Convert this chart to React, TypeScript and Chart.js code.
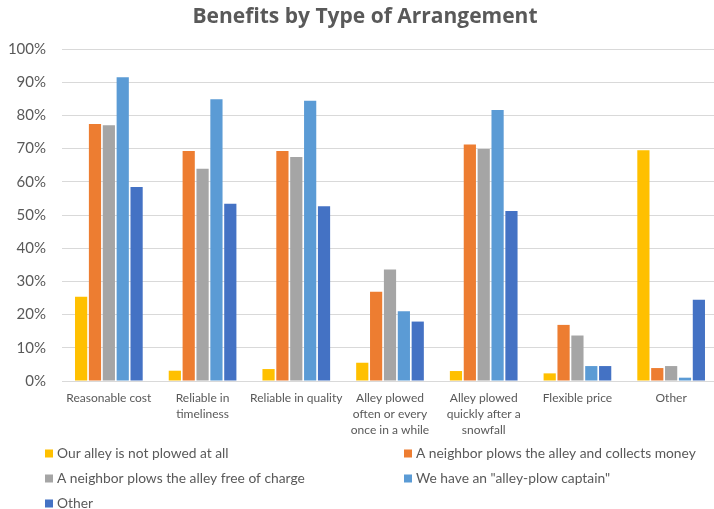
import React, { useEffect, useRef } from "react";
import { Chart, registerables } from "chart.js";

Chart.register(...registerables);

const TITLE = "Benefits by Type of Arrangement";
const categories: string[][] = [
  ["Reasonable cost"],
  ["Reliable in", "timeliness"],
  ["Reliable in quality"],
  ["Alley plowed", "often or every", "once in a while"],
  ["Alley plowed", "quickly after a", "snowfall"],
  ["Flexible price"],
  ["Other"],
];
const seriesNames = [
  "Our alley is not plowed at all",
  "A neighbor plows the alley and collects money",
  "A neighbor plows the alley free of charge",
  'We have an "alley-plow captain"',
  "Other",
];
const notPlowed = [25.4, 3.1, 3.6, 5.5, 3.0, 2.3, 69.5];
const neighborPaid = [77.4, 69.3, 69.3, 26.9, 71.2, 16.9, 3.9];
const neighborFree = [77.0, 63.9, 67.5, 33.6, 69.9, 13.7, 4.5];
const captain = [91.5, 84.9, 84.4, 21.0, 81.6, 4.5, 1.0];
const otherArr = [58.4, 53.4, 52.6, 17.9, 51.2, 4.5, 24.5];
const seriesValues = [notPlowed, neighborPaid, neighborFree, captain, otherArr];
const seriesColors = ["#FFC000", "#ED7D31", "#A5A5A5", "#5B9BD5", "#4472C4"];
const yTicks = [0, 10, 20, 30, 40, 50, 60, 70, 80, 90, 100];

const FONT = "Lato, 'Open Sans', sans-serif";
const TITLE_FONT = "'Open Sans', Lato, sans-serif";

const legendPlugin = {
  id: "gridLegend",
  afterLayout(chart: any) {
    if (chart.titleBlock) chart.titleBlock.left = 12;
  },
  afterDraw(chart: any) {
    const ctx = chart.ctx;
    ctx.save();
    ctx.font = `13.8px ${FONT}`;
    ctx.textBaseline = "middle";
    ctx.textAlign = "left";
    chart.data.datasets.forEach((ds: any, i: number) => {
      const col = i % 2;
      const row = Math.floor(i / 2);
      const x = col === 0 ? 45 : 404;
      const y = 453.5 + row * 25;
      ctx.fillStyle = ds.backgroundColor;
      ctx.fillRect(x, y - 4, 8, 8);
      ctx.fillStyle = "#595959";
      ctx.fillText(ds.label, x + 12, y);
    });
    ctx.restore();
  },
};

export default function App() {
  const ref = useRef<HTMLCanvasElement>(null);
  useEffect(() => {
    if (!ref.current) return;
    const chart = new Chart(ref.current, {
      type: "bar",
      data: {
        labels: categories,
        datasets: seriesNames.map((name, i) => ({
          label: name,
          data: seriesValues[i],
          backgroundColor: seriesColors[i],
          borderWidth: 0,
          categoryPercentage: 0.74,
          barPercentage: 0.88,
        })),
      },
      options: {
        responsive: false,
        animation: false,
        devicePixelRatio: 1,
        layout: { padding: { left: 0, right: 14, top: 0, bottom: 0 } },
        plugins: {
          legend: { display: false },
          tooltip: { enabled: false },
          title: {
            display: true,
            text: TITLE,
            color: "#595959",
            font: { family: TITLE_FONT, size: 21, weight: "bold", lineHeight: 1.2 },
            padding: { top: 4.5, bottom: 19.3 },
          },
        },
        scales: {
          x: {
            grid: { display: false, drawTicks: false },
            border: { display: true, color: "#d9d9d9" },
            ticks: {
              color: "#595959",
              font: { family: FONT, size: 12, lineHeight: 1.333 },
              padding: 9,
              maxRotation: 0,
              autoSkip: false,
            },
            afterFit(scale: any) {
              scale.height = 128;
            },
          },
          y: {
            min: 0,
            max: 100,
            afterBuildTicks(scale: any) {
              scale.ticks = yTicks.map((v) => ({ value: v }));
            },
            grid: { color: "#d9d9d9", drawTicks: false },
            border: { display: false },
            ticks: {
              color: "#595959",
              font: { family: FONT, size: 15 },
              padding: 16,
              callback: (v: any) => `${v}%`,
            },
            afterFit(scale: any) {
              scale.width = 62;
            },
          },
        },
      },
      plugins: [legendPlugin],
    });
    return () => chart.destroy();
  }, []);
  return (
    <div
      style={{
        position: "fixed",
        left: 0,
        top: 0,
        width: 714,
        height: 509,
        overflow: "hidden",
        background: "#fff",
      }}
    >
      <canvas ref={ref} width={732} height={509} style={{ display: "block" }} />
    </div>
  );
}
